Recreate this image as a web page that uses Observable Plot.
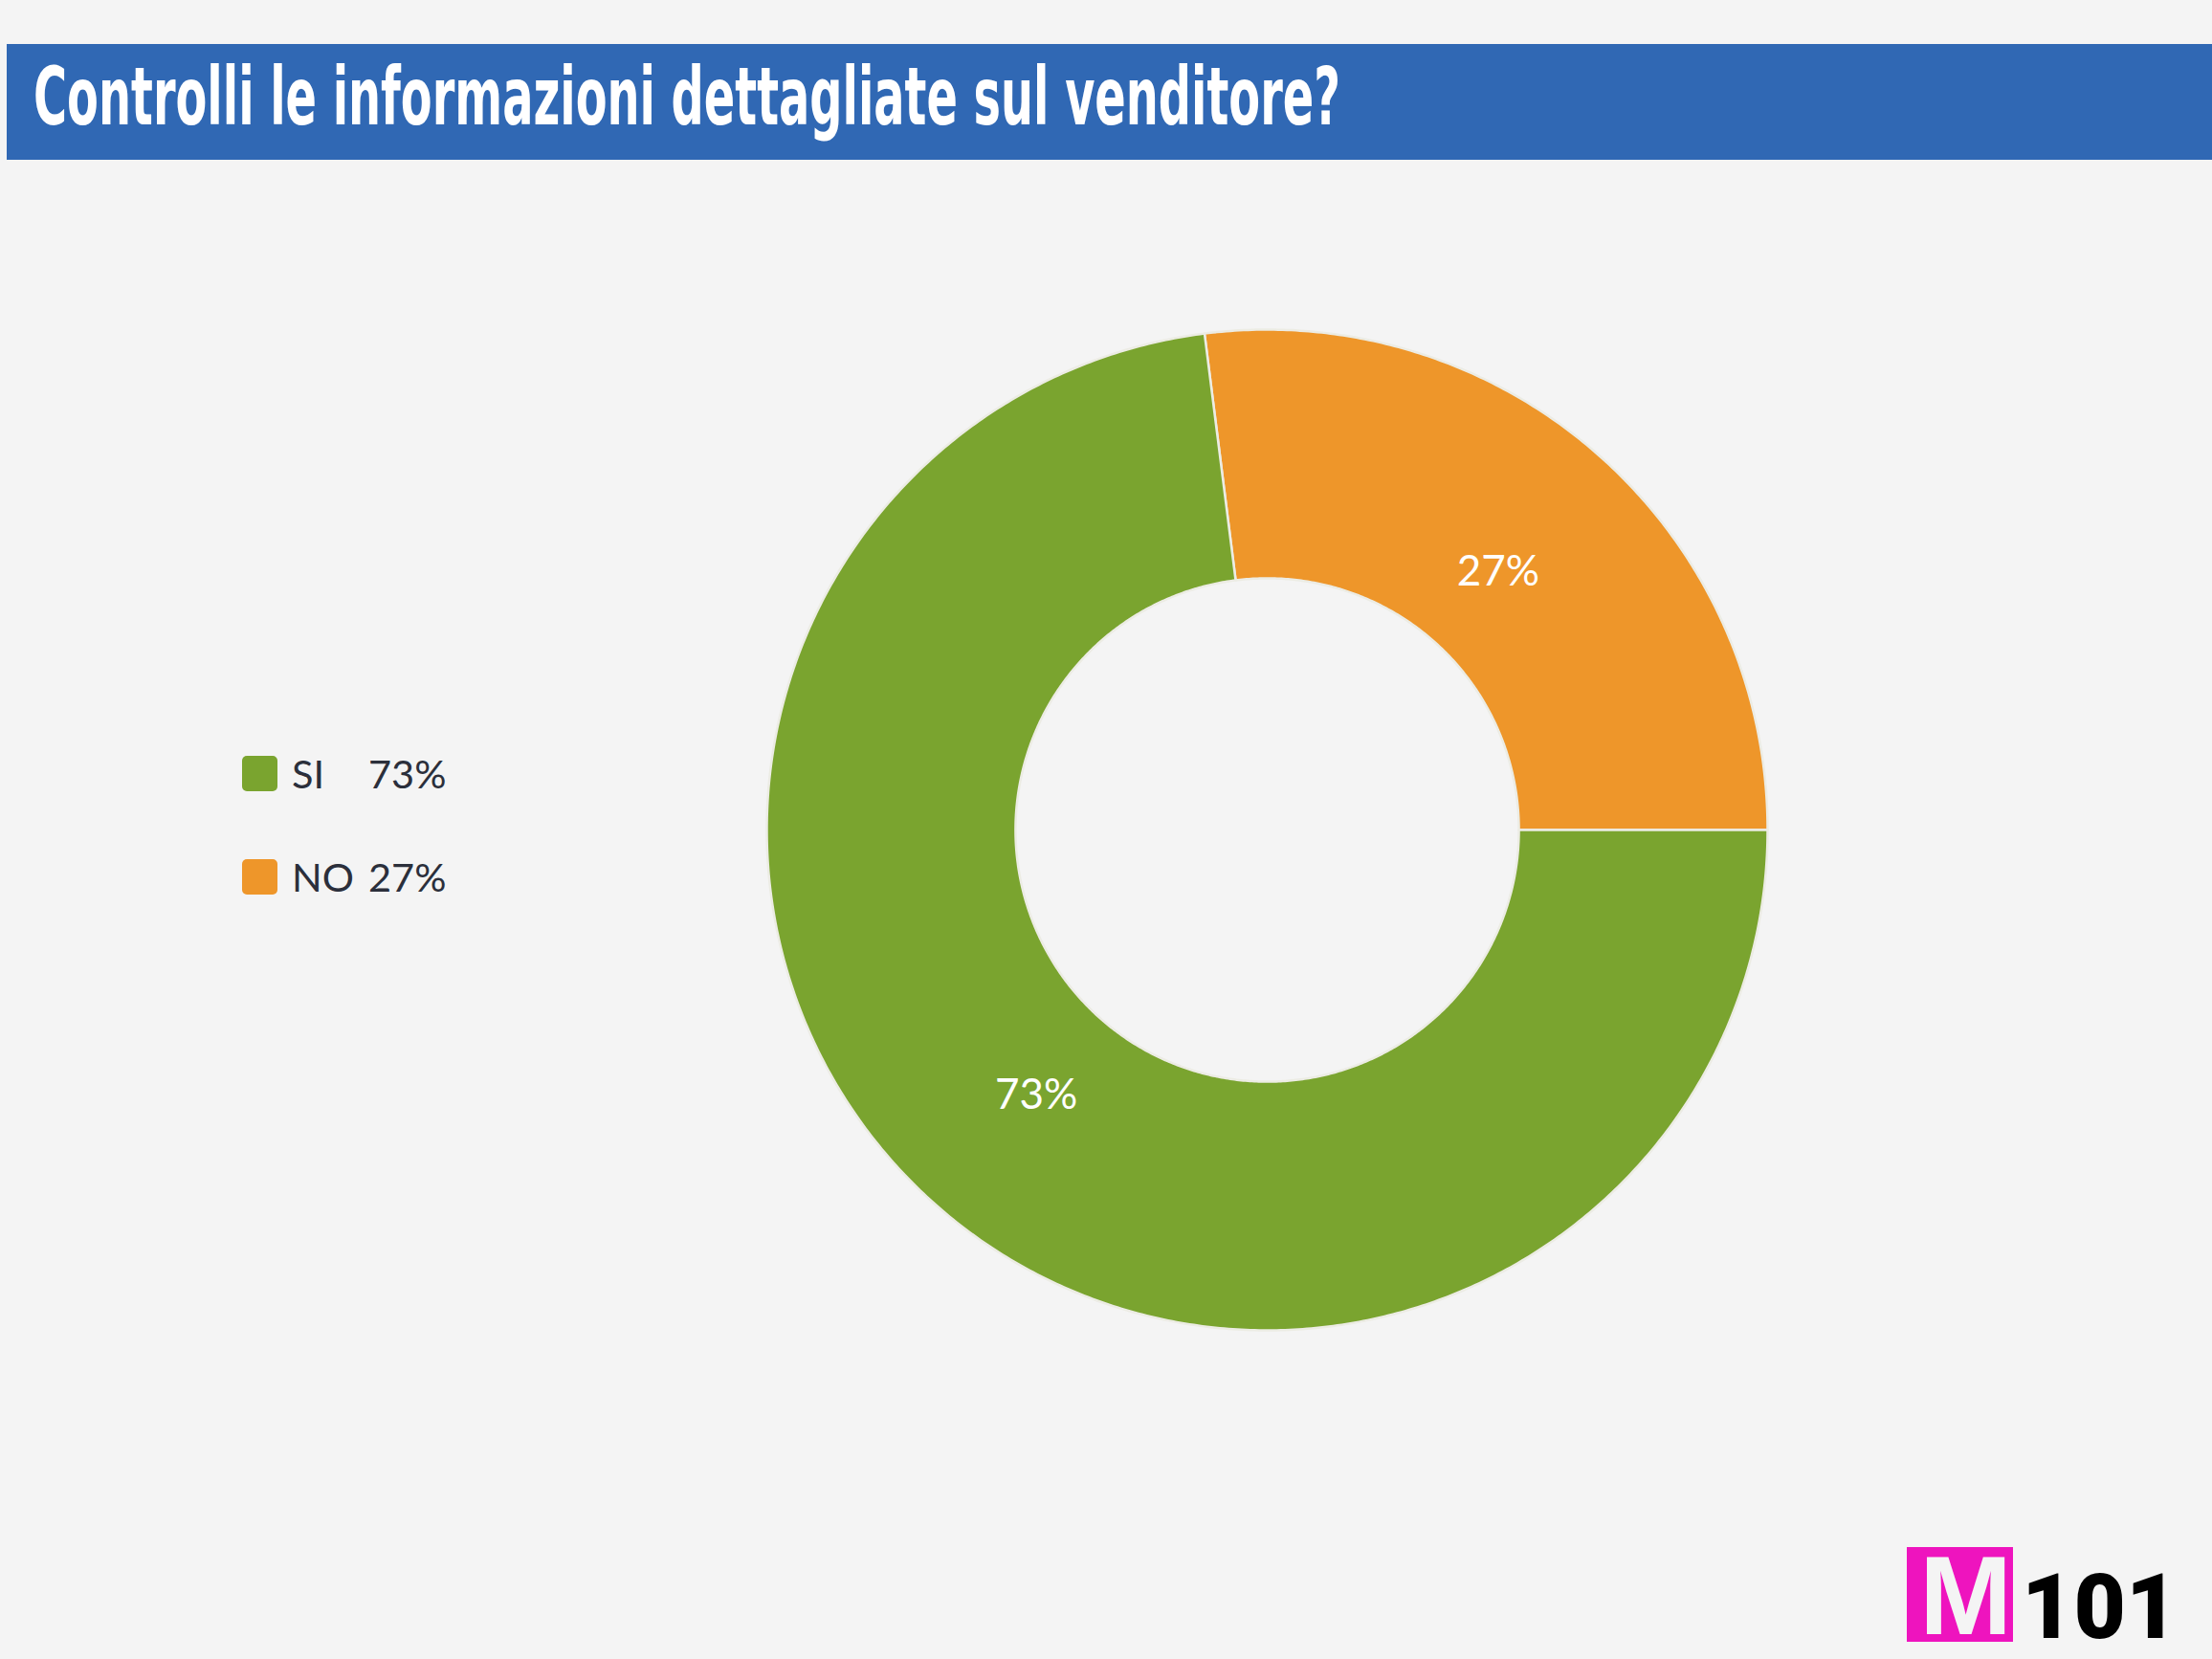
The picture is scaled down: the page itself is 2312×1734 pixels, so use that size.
<!DOCTYPE html>
<html><head><meta charset="utf-8">
<script src="https://cdn.jsdelivr.net/npm/d3@7"></script>
<script src="https://cdn.jsdelivr.net/npm/@observablehq/plot@0.6"></script>
<style>
html,body{margin:0;padding:0;background:#f4f4f4;width:2312px;height:1734px;overflow:hidden;}
#page{position:relative;width:2312px;height:1734px;background:#f4f4f4;}
#title{position:absolute;left:7px;top:46px;width:2305px;height:121px;background:#3068b4;overflow:hidden;}
#title span{position:absolute;left:28px;top:13px;color:#fff;font-family:"DejaVu Sans Condensed","Liberation Sans Narrow",sans-serif;font-weight:bold;font-size:84px;line-height:1;white-space:nowrap;transform-origin:0 0;}
#chart{position:absolute;left:0;top:167px;}
.lt{position:absolute;font-family:Lato,"Open Sans",sans-serif;font-size:41.5px;line-height:1;color:#2b2f3b;white-space:nowrap;}
#logoBox{position:absolute;left:1993px;top:1617px;width:111px;height:99px;background:#ee14be;}
#logoM{position:absolute;left:6px;top:-7px;width:111px;text-align:center;color:#f4f4f4;font-family:"Liberation Sans",Arial,sans-serif;font-weight:bold;font-size:116px;line-height:1;}
#logo101{position:absolute;left:2113px;top:1633px;color:#000;font-family:Roboto,sans-serif;font-weight:900;font-size:94px;line-height:1;}
</style></head>
<body><div id="page">
<div id="title"><span id="titleText">Controlli le informazioni dettagliate sul venditore?</span></div>
<div id="chart"></div>
<div id="legend"></div>
<div id="logoBox"><div id="logoM">M</div></div>
<div id="logo101">101</div>
</div>
<script>
const categories = ["SI", "NO"];
const values = [73, 27];
const colors = ["#7aa42f", "#ee962a"];
const sliceOrder = ["NO", "SI"]; // counterclockwise from 3 o'clock

// title width fit
const tt = document.getElementById("titleText");
const w = tt.getBoundingClientRect().width;
tt.style.transform = `scaleX(${1366 / w})`;

// legend
const legend = document.getElementById("legend");
const legTops = [790, 898];
const textTops = [788, 896];
categories.forEach((c, i) => {
  const sw = document.createElement("div");
  sw.style.cssText = `position:absolute;left:253px;top:${legTops[i]}px;width:37px;height:37px;border-radius:5px;background:${colors[i]}`;
  legend.appendChild(sw);
  const t1 = document.createElement("div");
  t1.className = "lt"; t1.textContent = c;
  t1.style.left = "305px"; t1.style.top = textTops[i] + "px";
  legend.appendChild(t1);
  const t2 = document.createElement("div");
  t2.className = "lt"; t2.textContent = values[i] + "%";
  t2.style.left = "385px"; t2.style.top = textTops[i] + "px";
  legend.appendChild(t2);
});

// donut geometry derived from values
const rOuter = 1, rInner = 0.503, rLabel = 0.698;
const total = d3.sum(values);
let acc = 0;
const slicePts = [];
const labels = [];
for (const c of sliceOrder) {
  const v = values[categories.indexOf(c)];
  const a0 = acc / total * 2 * Math.PI, a1 = (acc + v) / total * 2 * Math.PI;
  acc += v;
  const n = Math.max(2, Math.ceil((a1 - a0) / (Math.PI / 360)));
  for (let i = 0; i <= n; i++) { const a = a0 + (a1 - a0) * i / n; slicePts.push({c, x: Math.cos(a) * rOuter, y: Math.sin(a) * rOuter}); }
  for (let i = n; i >= 0; i--) { const a = a0 + (a1 - a0) * i / n; slicePts.push({c, x: Math.cos(a) * rInner, y: Math.sin(a) * rInner}); }
  slicePts.push({c, x: Math.cos(a0) * rOuter, y: Math.sin(a0) * rOuter});
  const am = (a0 + a1) / 2;
  labels.push({c, v, x: Math.cos(am) * rLabel, y: Math.sin(am) * rLabel});
}

const cx = 1324, cy = 700, R = 523;
const chart = Plot.plot({
  width: 2312,
  height: 1567,
  margin: 0,
  style: {background: "transparent", overflow: "visible"},
  x: {domain: [-1, 1], range: [cx - R, cx + R], axis: null},
  y: {domain: [-1, 1], range: [cy + R, cy - R], axis: null},
  color: {domain: categories, range: colors},
  marks: [
    Plot.line(slicePts, {x: "x", y: "y", z: "c", fill: "c", stroke: "#ecece4", strokeWidth: 2.5, strokeLinejoin: "round", curve: "linear"}),
    Plot.text(labels, {x: "x", y: "y", dy: 4, text: d => d.v + "%", fill: "#ffffff", fontSize: 44, fontFamily: "Lato, 'Open Sans', sans-serif"})
  ]
});
document.getElementById("chart").appendChild(chart);
</script>
</body></html>
